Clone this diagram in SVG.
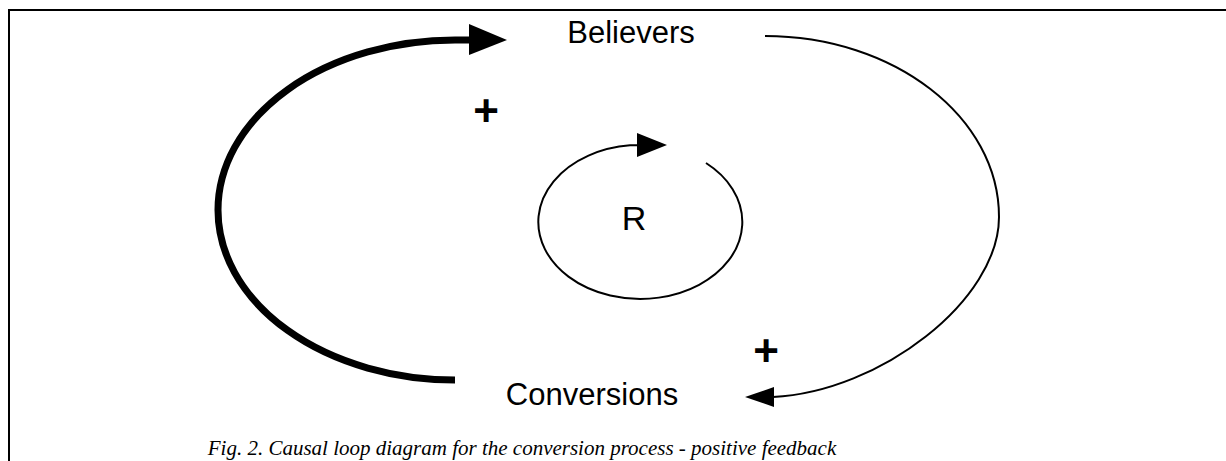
<svg xmlns="http://www.w3.org/2000/svg" width="1226" height="461" viewBox="0 0 1226 461">
<style>
.lbl{font-family:"Liberation Sans",Arial,sans-serif;font-size:31px;fill:#000;text-anchor:middle}
.sign{font-family:"Liberation Sans",Arial,sans-serif;font-size:44px;font-weight:bold;fill:#000;text-anchor:middle}
.cap{font-family:"Liberation Serif","Times New Roman",serif;font-style:italic;font-size:21px;fill:#000;text-anchor:middle}
.thick{fill:none;stroke:#000;stroke-width:7}
.thin{fill:none;stroke:#000;stroke-width:2}
.head{fill:#000;stroke:none}
</style>
<rect width="1226" height="461" fill="#fff"/>
<path d="M9,461 V10 H1226" fill="none" stroke="#000" stroke-width="2"/>
<g id="believers"><text class="lbl" x="631" y="43">Believers</text></g>
<g id="conversions"><text class="lbl" x="592" y="405">Conversions</text></g>
<g id="loop-label"><text class="lbl" x="634" y="230" style="font-size:34px">R</text></g>
<g id="connectors">
  <path class="thick" d="M455,380 A237,170 0 0 1 455,40 H472"/>
  <polygon class="head" points="469,24 507,40 469,55"/>
  <path class="thin" d="M765,36 C894,36 999,117 999,217 C999,300 880,392 773,397"/>
  <polygon class="head" points="774,387 745,397 774,407"/>
  <path class="thin" d="M706,163 A102,77 0 1 1 630,145.3 H640"/>
  <polygon class="head" points="637,133 667,145 637,157"/>
</g>
<g id="polarity">
  <text class="sign" x="486" y="126">+</text>
  <text class="sign" x="766" y="366">+</text>
</g>
<g id="caption"><text class="cap" x="522" y="455">Fig. 2. Causal loop diagram for the conversion process - positive feedback</text></g>
</svg>
